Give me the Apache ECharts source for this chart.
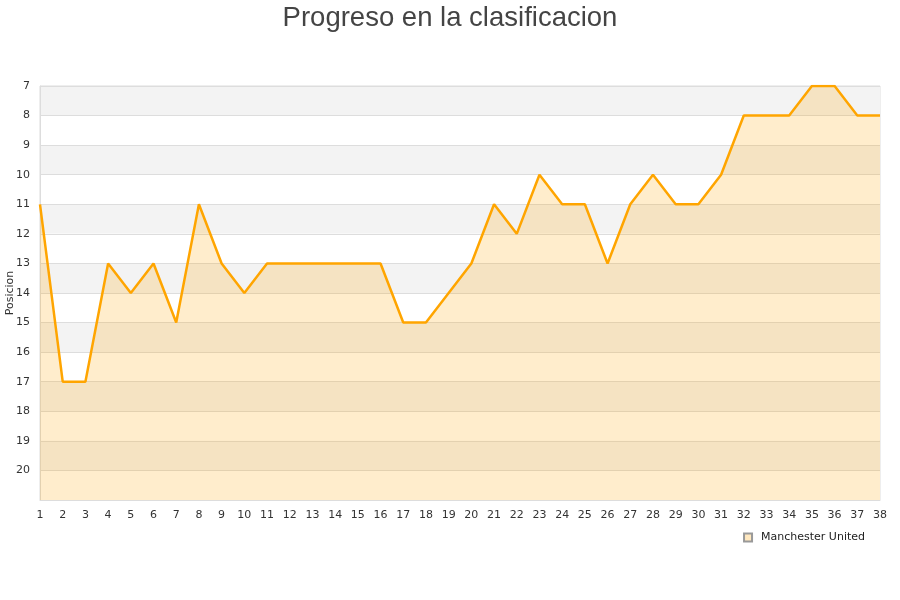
<!DOCTYPE html>
<html>
<head>
<meta charset="utf-8">
<script src="https://cdn.jsdelivr.net/npm/echarts@6/dist/echarts.min.js"></script>
<style>
  html, body { margin: 0; padding: 0; background: #fff; }
  #chart { width: 900px; height: 600px; }
</style>
</head>
<body>
<div id="chart"></div>
<script>
// jornadas y posicion de la tabla
var jornadas = [];
for (var j = 1; j <= 38; j++) jornadas.push(String(j));
var posiciones = [11, 17, 17, 13, 14, 13, 15, 11, 13, 14,
                  13, 13, 13, 13, 13, 13, 15, 15, 14, 13,
                  11, 12, 10, 11, 11, 13, 11, 10, 11, 11,
                  10, 8, 8, 8, 7, 7, 8, 8];
var equipo = 'Manchester United';

var chart = echarts.init(document.getElementById('chart'));

chart.setOption({
    animation: false,
    textStyle: { fontFamily: 'DejaVu Sans' },
    title: {
        text: 'Progreso en la clasificacion',
        left: 'center',
        top: -1,
        textStyle: {
            fontFamily: 'Liberation Sans',
            fontSize: 27.5,
            fontWeight: 'normal',
            color: '#444'
        }
    },
    legend: {
        data: [equipo],
        right: 30,
        top: 527,
        icon: 'rect',
        itemWidth: 8,
        itemHeight: 8,
        textStyle: { fontSize: 11, color: '#222', padding: [0, 0, 0, 4] }
    },
    grid: {
        left: 40,
        right: 20,
        top: 86,
        bottom: 100,
        containLabel: false,
        outerBoundsMode: 'none',
        show: true,
        borderColor: '#ddd',
        borderWidth: 1
    },
    xAxis: {
        type: 'category',
        data: jornadas,
        boundaryGap: false,
        axisLine: { lineStyle: { color: '#ddd' } },
        axisTick: { show: false },
        axisLabel: { color: '#333', fontSize: 11, margin: 10, interval: 0 },
        splitLine: { show: false }
    },
    yAxis: {
        type: 'value',
        name: 'Posicion',
        nameLocation: 'middle',
        nameGap: 24,
        nameMoveOverlap: false,
        nameTextStyle: { fontSize: 11, color: '#333' },
        inverse: true,
        min: 7,
        max: 21,
        interval: 1,
        axisLine: { show: true, lineStyle: { color: '#ddd' } },
        axisTick: { show: false },
        axisLabel: {
            color: '#333',
            fontSize: 11,
            margin: 10,
            formatter: function (v) { return v === 21 ? '' : v; }
        },
        splitLine: { lineStyle: { color: '#ddd' } },
        splitArea: { show: true, areaStyle: { color: ['#f3f3f3', '#ffffff'] } }
    },
    series: [{
        name: equipo,
        type: 'line',
        data: posiciones,
        showSymbol: false,
        symbol: 'none',
        lineStyle: { color: '#ffa500', width: 2.5 },
        itemStyle: { color: 'rgba(255,165,0,0.25)', borderColor: '#999', borderWidth: 1 },
        areaStyle: { color: 'rgba(255,165,0,0.2)', origin: 'end', opacity: 1 }
    }]
});
</script>
</body>
</html>
